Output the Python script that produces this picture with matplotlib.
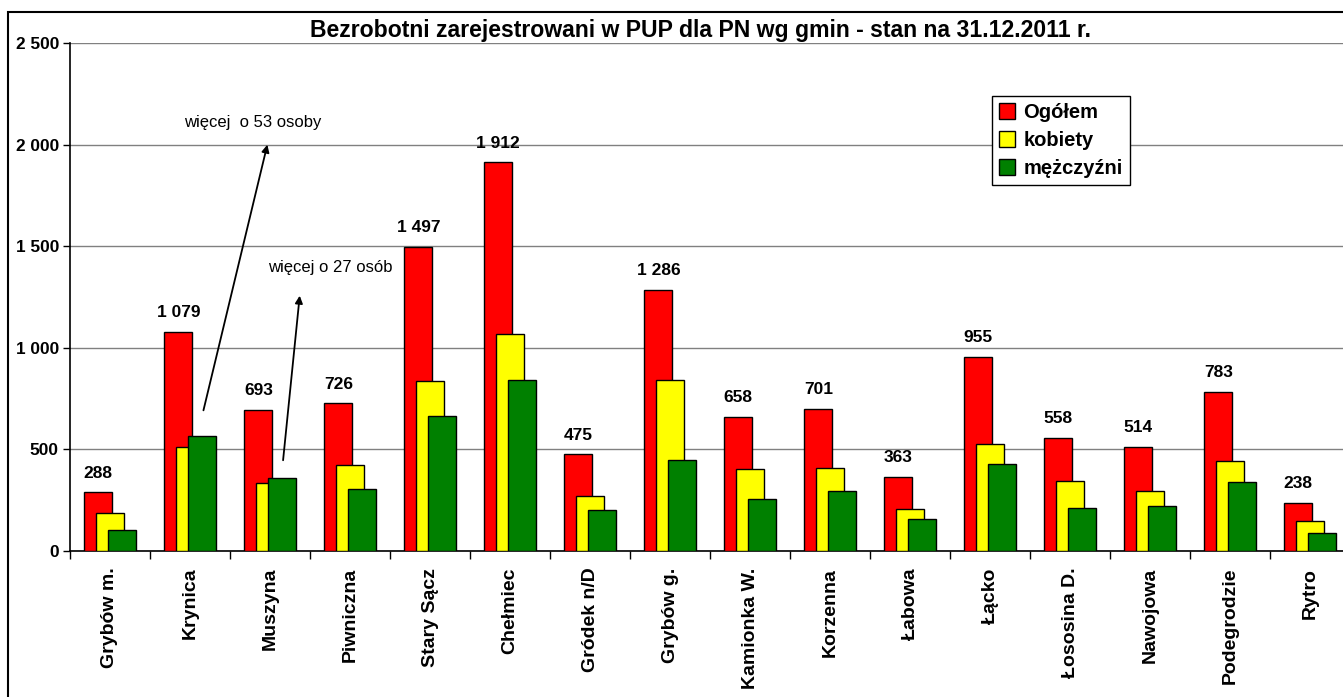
import matplotlib
matplotlib.use("Agg")
import matplotlib.pyplot as plt
from matplotlib.patches import Rectangle
import numpy as np

plt.rcParams['font.family'] = ['Liberation Sans', 'DejaVu Sans']

categories = ["Grybów m.", "Krynica", "Muszyna", "Piwniczna", "Stary Sącz", "Chełmiec",
              "Gródek n/D", "Grybów g.", "Kamionka W.", "Korzenna", "Łabowa", "Łącko",
              "Łososina D.", "Nawojowa", "Podegrodzie", "Rytro"]
ogolem = [288, 1079, 693, 726, 1497, 1912, 475, 1286, 658, 701, 363, 955, 558, 514, 783, 238]
kobiety = [185, 513, 333, 423, 835, 1069, 272, 840, 403, 407, 205, 526, 344, 295, 443, 150]
mezczyzni = [103, 566, 360, 303, 662, 843, 203, 446, 255, 294, 158, 430, 214, 219, 340, 88]
series_names = ["Ogółem", "kobiety", "mężczyźni"]
series_colors = ["#FF0000", "#FFFF00", "#008000"]
title = "Bezrobotni zarejestrowani w PUP dla PN wg gmin - stan na 31.12.2011 r."

W, H = 1343, 697
fig = plt.figure(figsize=(W / 100, H / 100), dpi=100)
ax = fig.add_axes([70 / W, (H - 551) / H, 1280 / W, (551 - 43) / H])

x = np.arange(len(categories))
width = 0.35
offsets = [-0.146, 0.0, 0.146]
for vals, name, col, off in zip([ogolem, kobiety, mezczyzni], series_names, series_colors, offsets):
    ax.bar(x + off, vals, width=width, color=col, edgecolor="black", linewidth=1.0,
           label=name, zorder=3)

for xi, v in zip(x, ogolem):
    ax.annotate(f"{v:,}".replace(",", " "), (xi + offsets[0], v), xytext=(0, 14),
                textcoords="offset points", ha="center", va="center",
                fontsize=12.5, fontweight="bold", zorder=5)

ax.set_xlim(-0.5, len(categories) - 0.5)
ax.set_ylim(0, 2500)
yt = np.arange(0, 2501, 500)
ax.set_yticks(yt)
ax.set_yticklabels([f"{v:,}".replace(",", " ") for v in yt], fontsize=12.4, fontweight="bold")
ax.yaxis.grid(True, color="#808080", linewidth=1.0, zorder=0)
ax.set_axisbelow(True)
ax.tick_params(axis="y", direction="out", length=5, width=1, pad=3)

ax.set_xticks(x)
ax.set_xticklabels(categories, rotation=90, fontsize=14, fontweight="bold")
ax.set_xticks(np.arange(-0.5, len(categories), 1.0), minor=True)
ax.tick_params(axis="x", which="major", length=0, pad=12)
ax.tick_params(axis="x", which="minor", length=6, width=1, direction="out")

for s in ["top", "right"]:
    ax.spines[s].set_visible(False)
ax.spines["left"].set_linewidth(1.2)
ax.spines["bottom"].set_linewidth(1.2)

# annotations
ax.annotate("", xy=(1.975, 2013), xytext=(1.16, 679),
            arrowprops=dict(arrowstyle="-|>", color="black", lw=1.3, mutation_scale=11))
ax.text(1.79, 2111, "więcej  o 53 osoby", ha="center", va="center", fontsize=12)
ax.annotate("", xy=(2.375, 1270), xytext=(2.16, 433),
            arrowprops=dict(arrowstyle="-|>", color="black", lw=1.3, mutation_scale=11))
ax.text(2.75, 1393, "więcej o 27 osób", ha="center", va="center", fontsize=12)

leg = ax.legend(loc="upper left", bbox_to_anchor=(992 / W, 1 - 96 / H),
                bbox_transform=fig.transFigure, borderaxespad=0, fancybox=False,
                edgecolor="black", framealpha=1, handlelength=0.8, handleheight=0.8,
                handletextpad=0.4, labelspacing=0.45, borderpad=0.35,
                prop=dict(size=14.5, weight="bold"))
leg.get_frame().set_linewidth(1.0)

fig.text(700 / W, 1 - 31 / H, title, ha="center", va="center", fontsize=16.6, fontweight="bold")

frame = Rectangle((8 / W, -0.05), 1.1, 1 - 12 / H + 0.05, transform=fig.transFigure,
                  fill=False, edgecolor="black", linewidth=1.5)
fig.patches.append(frame)

fig.savefig("out.png", dpi=100)
